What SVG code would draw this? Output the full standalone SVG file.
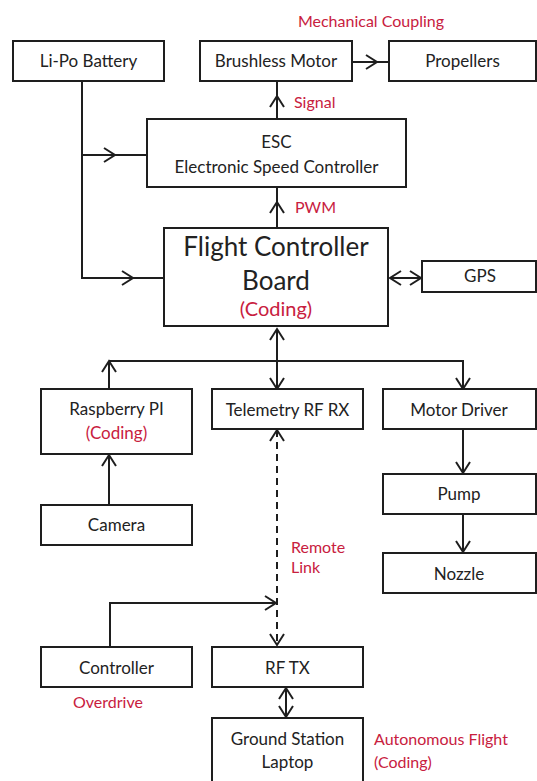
<svg xmlns="http://www.w3.org/2000/svg" width="537" height="781" viewBox="0 0 537 781">
<style>
.box{fill:#fff;stroke:#1e1e1e;stroke-width:2}
.t{font-family:Lato,"Open Sans","Liberation Sans",sans-serif;font-size:17px;fill:#222;text-anchor:middle}
.r{font-family:Lato,"Open Sans","Liberation Sans",sans-serif;font-size:16px;fill:#c8203e}
.big{font-size:26px}
.c{fill:none;stroke:#1e1e1e;stroke-width:2}
.d{stroke-dasharray:7 5}
</style>
<defs>
<marker id="a" markerUnits="userSpaceOnUse" viewBox="-15 -15 30 30" markerWidth="30" markerHeight="30" refX="0" refY="0" orient="auto-start-reverse">
<path d="M-11,-7 L0,0 L-11,7" fill="none" stroke="#1e1e1e" stroke-width="2"/>
</marker>
</defs>
<g id="connectors">
<path class="c" d="M82,81 V278 H133" marker-end="url(#a)"/>
<path class="c" d="M133,278 H164"/>
<path class="c" d="M82,155 H115" marker-end="url(#a)"/>
<path class="c" d="M115,155 H147"/>
<path class="c" d="M352,62 H377" marker-end="url(#a)"/>
<path class="c" d="M377,62 H389"/>
<path class="c" d="M277,119 V96" marker-end="url(#a)"/>
<path class="c" d="M277,96 V81"/>
<path class="c" d="M277,228 V202" marker-end="url(#a)"/>
<path class="c" d="M277,202 V187"/>
<path class="c" d="M390,278 H421" marker-start="url(#a)" marker-end="url(#a)"/>
<path class="c" d="M277,329 V389" marker-start="url(#a)" marker-end="url(#a)"/>
<path class="c" d="M109,361 H463 V389" marker-end="url(#a)"/>
<path class="c" d="M109,389 V361" marker-end="url(#a)"/>
<path class="c" d="M109,505 V455" marker-end="url(#a)"/>
<path class="c" d="M463,429 V473" marker-end="url(#a)"/>
<path class="c" d="M463,514 V552" marker-end="url(#a)"/>
<path class="c d" d="M277,430 V645" marker-start="url(#a)" marker-end="url(#a)"/>
<path class="c" d="M110,647 V603 H276" marker-end="url(#a)"/>
<path class="c" d="M286,688 V717" marker-start="url(#a)" marker-end="url(#a)"/>
</g>
<g id="battery"><rect class="box" x="13" y="41" width="151" height="40"/><text class="t" x="88.5" y="67">Li-Po Battery</text></g>
<g id="motor"><rect class="box" x="200" y="41" width="152" height="40"/><text class="t" x="276" y="67">Brushless Motor</text></g>
<g id="propellers"><rect class="box" x="389" y="41" width="147" height="40"/><text class="t" x="462.5" y="67">Propellers</text></g>
<g id="esc"><rect class="box" x="147" y="119" width="259" height="68"/><text class="t" x="276.5" y="148">ESC</text><text class="t" x="276.5" y="173">Electronic Speed Controller</text></g>
<g id="fc"><rect class="box" x="164" y="228" width="224" height="98"/><text class="t big" x="276" y="256">Flight Controller</text><text class="t big" x="276" y="290">Board</text><text class="t" x="276" y="316" style="fill:#c8203e;font-size:20px">(Coding)</text></g>
<g id="gps"><rect class="box" x="422" y="261" width="114" height="31"/><text class="t" x="480" y="282">GPS</text></g>
<g id="rpi"><rect class="box" x="41" y="389" width="151" height="65"/><text class="t" x="116.5" y="415">Raspberry PI</text><text class="t" x="116.5" y="439" style="fill:#c8203e">(Coding)</text></g>
<g id="telemetry"><rect class="box" x="212" y="389" width="151" height="40"/><text class="t" x="287.5" y="416">Telemetry RF RX</text></g>
<g id="motordriver"><rect class="box" x="383" y="389" width="153" height="40"/><text class="t" x="459" y="416">Motor Driver</text></g>
<g id="pump"><rect class="box" x="383" y="474" width="153" height="40"/><text class="t" x="459" y="500">Pump</text></g>
<g id="nozzle"><rect class="box" x="383" y="553" width="153" height="40"/><text class="t" x="459" y="580">Nozzle</text></g>
<g id="camera"><rect class="box" x="41" y="505" width="151" height="40"/><text class="t" x="116.5" y="531">Camera</text></g>
<g id="controller"><rect class="box" x="41" y="647" width="151" height="40"/><text class="t" x="116.5" y="674">Controller</text></g>
<g id="rftx"><rect class="box" x="212" y="647" width="151" height="40"/><text class="t" x="287.5" y="674">RF TX</text></g>
<g id="ground"><rect class="box" x="212" y="718" width="151" height="80"/><text class="t" x="287.5" y="745">Ground Station</text><text class="t" x="287.5" y="768">Laptop</text></g>
<g id="labels">
<text class="r" x="371" y="27" text-anchor="middle">Mechanical Coupling</text>
<text class="r" x="294" y="108">Signal</text>
<text class="r" x="295" y="213">PWM</text>
<text class="r" x="291" y="553">Remote</text>
<text class="r" x="291" y="573">Link</text>
<text class="r" x="73" y="708">Overdrive</text>
<text class="r" x="374" y="745">Autonomous Flight</text>
<text class="r" x="374" y="768">(Coding)</text>
</g>
</svg>
